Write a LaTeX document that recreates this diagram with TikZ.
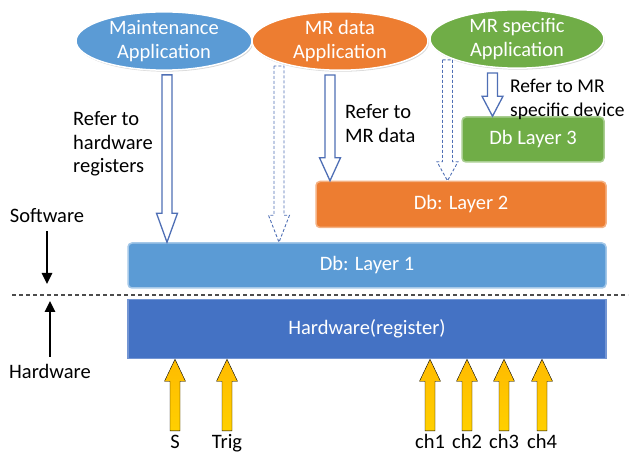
\documentclass[tikz,border=0pt]{standalone}
\usepackage{fontspec}
\setmainfont{Carlito}
\usepackage{tikz}
\usetikzlibrary{arrows.meta,positioning,calc,shapes.geometric,shadows}
\definecolor{AppBlue}{HTML}{5B9BD5}
\definecolor{AppOrange}{HTML}{ED7D31}
\definecolor{AppGreen}{HTML}{70AD47}
\definecolor{HwBlue}{HTML}{4472C4}
\definecolor{ArrowBlue}{HTML}{4F6FB5}
\definecolor{SignalGold}{HTML}{FFC000}
% vertical block arrow: [style]{start}{node giving the tip height}{head length}
\newcommand{\blockarrow}[4][]{%
  \draw[#1] let \p1=(#2), \p2=(#3), \n1={(\y1-\y2)/abs(\y1-\y2)} in
    (\x1-5pt,\y1) -- (\x1-5pt,\y2+\n1*#4) -- (\x1-10.5pt,\y2+\n1*#4) -- (\x1,\y2)
    -- (\x1+10.5pt,\y2+\n1*#4) -- (\x1+5pt,\y2+\n1*#4) -- (\x1+5pt,\y1) -- cycle;}

\begin{document}
\begin{tikzpicture}[x=1pt,y=-1pt,
  every node/.style={font=\fontsize{20.5}{23.8}\selectfont},
  app/.style={ellipse,draw=white,line width=1.5pt,minimum width=176pt,minimum height=58pt,inner sep=0pt,align=center,text=white,drop shadow={shadow xshift=1pt,shadow yshift=-1.5pt,opacity=.3}},
  layer/.style={rounded corners=4pt,line width=1.5pt,minimum height=45pt,text=white},
  note/.style={align=left,anchor=north west,inner sep=0pt},
  side/.style={text height=14pt,text depth=4pt,inner sep=3pt},
  hollow/.style={draw=ArrowBlue,fill=white,line width=1.3pt},
  dhollow/.style={hollow,line width=.9pt,dash pattern=on 3pt off 2pt},
  gold/.style={top color=SignalGold!92!orange,bottom color=SignalGold!75!yellow},
  bigarr/.style={-{Triangle[width=10pt,length=11pt]},line width=2.5pt}
]
\useasboundingbox (0,0) rectangle (632,454);
% applications
\node[app,fill=AppBlue] (maint) at (164,41) {Maintenance\\Application};
\node[app,fill=AppOrange] (mrdata) at (340,41) {MR data\\Application};
\node[app,fill=AppGreen,minimum width=174pt,minimum height=56pt] (mrspec) at (517,39) {MR specific\\Application};
% layers
\node[layer,fill=AppBlue,draw=AppBlue!55!white,minimum width=478pt] (l1) at (367,265.5) {Db: Layer 1};
\node[layer,fill=HwBlue,draw=HwBlue!75!white,rounded corners=0pt,minimum width=478pt,minimum height=59pt,below=10pt of l1] (hw) {Hardware(register)};
\node[layer,fill=AppOrange,draw=AppOrange!60!white,minimum width=290pt,minimum height=46pt,above left=14pt and 0pt of l1.north east] (l2) {Db: Layer 2};
\node[layer,fill=AppGreen,draw=AppGreen!60!white,minimum width=142pt,above left=18pt and 2pt of l2.north east] (l3) {Db Layer 3};
% notes
\node[note] (refhw) at (73,111) {Refer to\\hardware\\registers};
\node[note] (refmr) at (345,104) {Refer to\\MR data};
\node[note,font=\fontsize{19.5}{23.8}\selectfont] (refsp) at (510,79) {Refer to MR\\specific device};
% references
\blockarrow[hollow]{[xshift=3pt,yshift=-4pt]maint.south}{l1.north}{29pt}
\blockarrow[dhollow]{[xshift=-61pt,yshift=5pt]mrdata.south}{l1.north}{27pt}
\blockarrow[hollow]{[xshift=-10pt,yshift=-4pt]mrdata.south}{l2.north}{23pt}
\blockarrow[dhollow]{[xshift=-69.5pt,yshift=9pt]mrspec.south}{l2.north}{19pt}
\blockarrow[hollow]{[xshift=-24.5pt,yshift=-4pt]mrspec.south}{l3.north}{20pt}
% software / hardware border
\coordinate (divl) at (12,295);
\coordinate (divr) at (628,295);
\draw[gray!60!black,line width=1.2pt,dash pattern=on 4pt off 3pt] (divl) -- (divr);
\node[side] (swlbl) at (47,218) {Software};
\node[side] (hwlbl) at (50,373) {Hardware};
\coordinate (swtip) at (47,284);
\coordinate (hwtip) at (49,301);
\draw[bigarr] ([yshift=-1pt]swlbl.south) -- (swtip);
\draw[bigarr] ([yshift=4pt]hwlbl.north) -- (hwlbl.north |- hwtip);
% signals
\node[side] (sig) at (175,443) {S};
\node[side] (trig) at (227,443) {Trig};
\node[side] (ch1) at (430,443) {ch1};
\node[side] (ch2) at (467,443) {ch2};
\node[side] (ch3) at (504,443) {ch3};
\node[side] (ch4) at (542,443) {ch4};
\blockarrow[gold]{sig.north}{hw.south}{22pt}
\blockarrow[gold]{trig.north}{hw.south}{22pt}
\blockarrow[gold]{ch1.north}{hw.south}{22pt}
\blockarrow[gold]{ch2.north}{hw.south}{22pt}
\blockarrow[gold]{ch3.north}{hw.south}{22pt}
\blockarrow[gold]{ch4.north}{hw.south}{22pt}
\end{tikzpicture}
\end{document}
